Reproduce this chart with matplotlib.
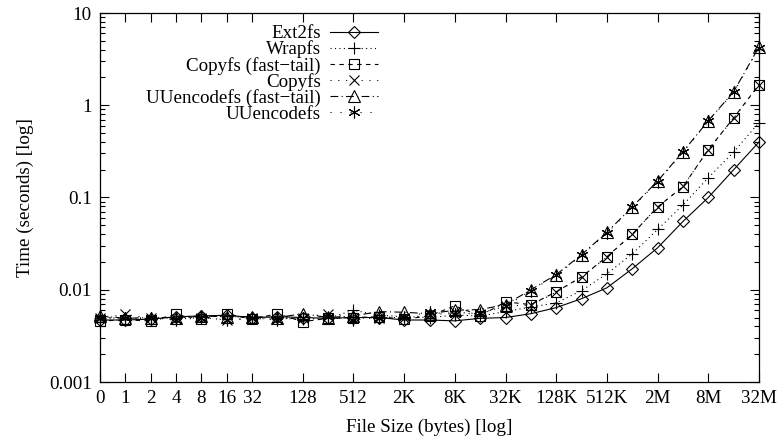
import matplotlib
matplotlib.use("Agg")
import matplotlib.pyplot as plt
from matplotlib.ticker import NullFormatter, LogLocator

# ---- data ----
file_sizes = ['0', '1', '2', '4', '8', '16', '32', '64', '128', '256', '512', '1K', '2K', '4K',
              '8K', '16K', '32K', '64K', '128K', '256K', '512K', '1M', '2M', '4M', '8M', '16M', '32M']
xtick_labels = ['0', '1', '2', '4', '8', '16', '32', '128', '512', '2K', '8K', '32K',
                '128K', '512K', '2M', '8M', '32M']
ytick_values = [0.001, 0.01, 0.1, 1, 10]
ytick_labels = ['0.001', '0.01', '0.1', '1', '10']

ext2fs = [0.0047, 0.0047, 0.0048, 0.0051, 0.0052, 0.0053, 0.0050, 0.0051, 0.0050, 0.0049, 0.0050,
          0.0050, 0.0047, 0.0047, 0.0046, 0.0049, 0.0050, 0.0055, 0.0064, 0.0080, 0.0105, 0.0169,
          0.0285, 0.055, 0.100, 0.200, 0.400]
wrapfs = [0.0050, 0.0049, 0.0049, 0.0050, 0.0051, 0.0052, 0.0049, 0.0050, 0.0048, 0.0049, 0.0060,
          0.0053, 0.0051, 0.0050, 0.0053, 0.0052, 0.0058, 0.0065, 0.0072, 0.0098, 0.0149, 0.0245,
          0.045, 0.083, 0.164, 0.31, 0.65]
copyfs_ft = [0.0046, 0.0047, 0.0046, 0.0054, 0.0048, 0.0055, 0.0048, 0.0055, 0.0045, 0.0049, 0.0050,
             0.0051, 0.0048, 0.0052, 0.0067, 0.0052, 0.0074, 0.0069, 0.0095, 0.0138, 0.0228, 0.040,
             0.079, 0.131, 0.33, 0.73, 1.67]
copyfs = [0.0049, 0.0054, 0.0049, 0.0048, 0.0050, 0.0047, 0.0049, 0.0048, 0.0050, 0.0055, 0.0049,
          0.0050, 0.0050, 0.0053, 0.0057, 0.0055, 0.0067, 0.0068, 0.0094, 0.0137, 0.0226, 0.040,
          0.079, 0.132, 0.33, 0.72, 1.65]
uu_ft = [0.0052, 0.0049, 0.0050, 0.0050, 0.0052, 0.0051, 0.0051, 0.0050, 0.0055, 0.0050, 0.0052,
         0.0058, 0.0057, 0.0055, 0.0060, 0.0061, 0.0069, 0.0100, 0.0146, 0.024, 0.042, 0.079,
         0.151, 0.313, 0.68, 1.40, 4.3]
uu = [0.0049, 0.0050, 0.0049, 0.0047, 0.0050, 0.0047, 0.0049, 0.0047, 0.0050, 0.0051, 0.0047,
      0.0050, 0.0051, 0.0057, 0.0054, 0.0056, 0.0066, 0.0098, 0.0143, 0.0236, 0.041, 0.078,
      0.149, 0.31, 0.67, 1.38, 4.2]

series = [
    ("Ext2fs", ext2fs, 'D', '-', 6.0),
    ("Wrapfs", wrapfs, '+', (0, (1, 3)), 8.0),
    ("Copyfs (fast\u2212tail)", copyfs_ft, 's', (0, (4, 4)), 7.0),
    ("Copyfs", copyfs, 'x', (0, (1, 6)), 7.5),
    ("UUencodefs (fast\u2212tail)", uu_ft, '^', (0, (7, 3, 1, 3)), 8.0),
    ("UUencodefs", uu, (6, 2, 0), (0, (1, 8)), 8.5),
]

plt.rcParams['font.family'] = ['Liberation Serif', 'DejaVu Serif']
FS = 13.7

fig = plt.figure(figsize=(7.77, 4.36), dpi=100)
ax = fig.add_axes([100 / 777, 1 - 382 / 436, 659 / 777, 369 / 436])

xpos = list(range(len(file_sizes)))
for name, vals, mk, ls, ms in series:
    ax.plot(xpos, vals, color='black', linestyle=ls, linewidth=0.8,
            marker=mk, markersize=ms, markerfacecolor='none', markeredgecolor='black',
            markeredgewidth=0.8, clip_on=False, label=name)

ax.set_yscale('log')
ax.set_ylim(0.001, 10)
ax.set_xlim(0, len(file_sizes) - 1)

tick_pos = [file_sizes.index(l) for l in xtick_labels]
ax.set_xticks(tick_pos)
ax.set_xticklabels(xtick_labels, fontsize=FS)
ax.set_yticks(ytick_values)
ax.set_yticklabels(ytick_labels, fontsize=FS)
ax.yaxis.set_minor_locator(LogLocator(base=10, subs=range(2, 10), numticks=50))
ax.yaxis.set_minor_formatter(NullFormatter())

ax.tick_params(axis='both', which='major', direction='in', top=True, right=True,
               length=6.5, width=0.8, pad=6)
ax.tick_params(axis='y', which='minor', direction='in', left=True, right=True,
               length=3.5, width=0.8)
ax.tick_params(axis='x', which='major', pad=6)
for sp in ax.spines.values():
    sp.set_linewidth(0.9)

ax.set_xlabel("File Size (bytes) [log]", fontsize=FS, labelpad=8)
ax.set_ylabel("Time (seconds) [log]", fontsize=FS, labelpad=11)

leg = ax.legend(loc='upper right', bbox_to_anchor=(278 / 659, 1 - 12 / 369),
                frameon=False, markerfirst=False, numpoints=1, fontsize=FS,
                handlelength=2.5, handletextpad=0.5, labelspacing=-0.09,
                borderpad=0, borderaxespad=0)

fig.savefig("out.png", dpi=100)
